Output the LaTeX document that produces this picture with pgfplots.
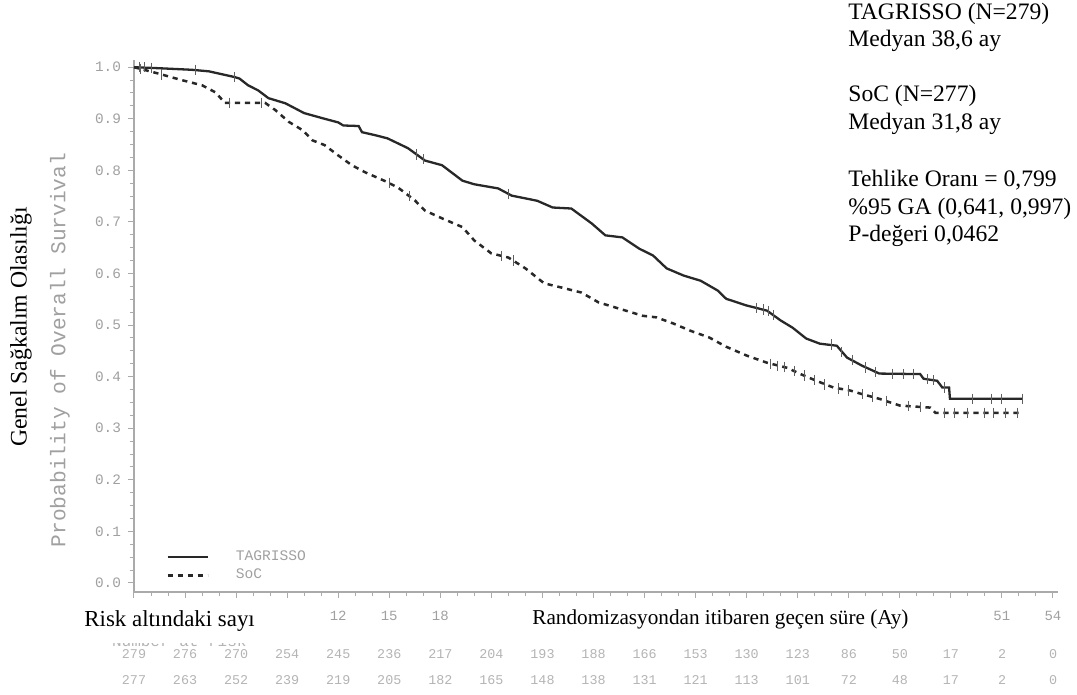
\documentclass[border=0pt]{standalone}
\usepackage{fontspec}
\setmainfont{Liberation Serif}
\setmonofont{Liberation Mono}
\usepackage{pgfplots}
\pgfplotsset{compat=1.18}
\definecolor{curve}{RGB}{40,40,40}
\definecolor{axisgray}{RGB}{170,170,170}
\definecolor{labgray}{RGB}{160,160,160}
\definecolor{riskgray}{RGB}{180,180,180}
\definecolor{censor}{RGB}{95,95,95}

\begin{document}
\begin{tikzpicture}
% whole picture = 1077 x 695 px at 0.5pt per px; axis origin at px (134,592)
\path[use as bounding box] (-67pt,-51.5pt) rectangle (471.5pt,296pt);

\begin{axis}[
    at={(0pt,0pt)}, anchor=south west,
    scale only axis, width=462pt, height=266pt,
    xmin=0, xmax=54.3, ymin=-0.0175, ymax=1.014,
    axis x line*=bottom, axis y line*=left,
    axis line style={axisgray, line width=0.6pt},
    xtick={0,3,...,54},
    xticklabels={,,,,12,15,18,,,,,,,,,,,51,54},
    minor x tick num=2,
    ytick={0,0.1,0.2,0.3,0.4,0.5,0.6,0.7,0.8,0.9,1.0},
    yticklabels={0.0,0.1,0.2,0.3,0.4,0.5,0.6,0.7,0.8,0.9,1.0},
    minor y tick num=3,
    tick align=outside,
    major tick length=3pt, minor tick length=1.8pt,
    tick style={axisgray, line width=0.5pt},
    yticklabel style={font=\ttfamily\fontsize{7.2}{8}\selectfont, text=labgray},
    xticklabel style={font=\ttfamily\fontsize{7}{8}\selectfont, text=labgray, yshift=-3pt},
    clip=false,
    legend style={at={(0.028,0.092)}, anchor=north west, draw=none, fill=none,
        font=\ttfamily\fontsize{7.3}{8}\selectfont, text=labgray,
        nodes={inner sep=1.5pt},
        /tikz/every odd column/.append style={column sep=12pt}},
    legend image code/.code={\draw[#1] (0pt,0pt) -- (20pt,0pt);},
    legend cell align=left,
]

% TAGRISSO
\addplot[curve, line width=1.15pt] coordinates {
(0,1.0) (1.5,0.998) (3.4,0.995) (4.4,0.992) (5.9,0.981) (6.2,0.978)
(6.7,0.965) (7.3,0.955) (7.9,0.940) (8.9,0.930) (10.0,0.911) (11.2,0.900)
(12.0,0.893) (12.3,0.887) (13.2,0.886) (13.4,0.874) (14.2,0.868) (14.9,0.862)
(16.1,0.843) (17.1,0.819) (18.1,0.810) (19.3,0.780) (20.0,0.773) (21.4,0.765)
(22.2,0.751) (23.7,0.741) (24.6,0.728) (25.7,0.726) (26.9,0.697) (27.7,0.674)
(28.7,0.670) (29.7,0.648) (30.5,0.635) (31.3,0.610) (32.3,0.596) (33.3,0.586)
(34.3,0.567) (34.8,0.551) (36.0,0.538) (37.2,0.528) (38.0,0.509) (38.7,0.495)
(39.5,0.474) (40.3,0.464) (41.3,0.460) (41.9,0.437) (42.8,0.421) (43.8,0.406)
(46.2,0.405) (46.4,0.396) (47.2,0.392) (47.5,0.379) (47.9,0.379) (47.95,0.357)
(52.2,0.357)
};
\addlegendentry{TAGRISSO}

% SoC
\addplot[curve, line width=1.25pt, dash pattern=on 2.6pt off 2.4pt] coordinates {
(0,1.0) (1.4,0.988) (2.8,0.975) (4.0,0.965) (4.8,0.951) (5.2,0.936)
(5.3,0.931) (7.7,0.931) (8.3,0.917) (9.1,0.894) (9.9,0.878) (10.5,0.858)
(11.2,0.849) (12.0,0.829) (12.8,0.810) (13.6,0.796) (14.7,0.780) (15.5,0.767)
(16.5,0.742) (17.1,0.722) (18.1,0.707) (19.3,0.690) (20.0,0.664) (21.0,0.639)
(22.0,0.631) (23.0,0.610) (24.1,0.581) (25.1,0.573) (26.3,0.563) (27.3,0.544)
(28.7,0.530) (29.9,0.518) (30.7,0.515) (31.7,0.503) (32.7,0.489) (33.8,0.476)
(34.8,0.458) (36.0,0.441) (37.2,0.427) (38.4,0.417) (39.1,0.406) (40.1,0.392)
(41.1,0.379) (42.1,0.373) (42.7,0.367) (43.8,0.357) (45.0,0.344) (46.8,0.340)
(47.1,0.330) (52.0,0.330)
};
\addlegendentry{SoC}

% censoring marks
\addplot[only marks, mark=|, mark size=2.6pt, mark options={censor, line width=0.45pt}, forget plot] coordinates {
(0.3,1.0) (0.6,1.0) (1.0,0.999) (3.6,0.995) (5.9,0.981) (16.6,0.831) (17.0,0.822)
(22.0,0.754) (36.6,0.533) (37.0,0.530) (37.3,0.527) (37.6,0.519) (41.0,0.462)
(41.6,0.448) (42.2,0.432) (43.0,0.418) (43.6,0.409) (44.6,0.405) (45.2,0.405)
(45.8,0.405) (46.6,0.395) (47.0,0.393) (47.6,0.379) (49.3,0.357) (50.4,0.357)
(51.0,0.357) (52.2,0.357)
};
\addplot[only marks, mark=|, mark size=2.6pt, mark options={censor, line width=0.45pt}, forget plot] coordinates {
(0.4,0.997) (1.6,0.986) (5.6,0.931) (7.5,0.931) (15.0,0.776) (16.2,0.750)
(21.6,0.634) (22.3,0.625) (37.4,0.425) (37.8,0.421) (38.2,0.419) (38.8,0.411)
(39.4,0.402) (40.0,0.394) (40.6,0.385) (41.4,0.377) (42.0,0.373) (42.8,0.366)
(43.4,0.360) (44.2,0.353) (45.5,0.343) (46.2,0.341) (47.6,0.330) (48.2,0.330)
(49.0,0.330) (50.0,0.330) (50.5,0.330) (51.2,0.330) (51.9,0.330)
};
\end{axis}

\begin{scope}[shift={(-67pt,296pt)}, x=0.5pt, y=-0.5pt]
% axis titles
\node[rotate=90, font=\ttfamily\fontsize{10.6}{12}\selectfont, text=labgray] at (60,350) {Probability of Overall Survival};
\node[rotate=90, font=\fontsize{11.85}{14}\selectfont] at (21,327) {Genel Sağkalım Olasılığı};

% number at risk
\foreach \v [count=\i from 0] in {279,276,270,254,245,236,217,204,193,188,166,153,130,123,86,50,17,2,0}
  \node[font=\ttfamily\fontsize{6.7}{8}\selectfont, text=riskgray] at ({134+51.06*\i},654) {\v};
\foreach \v [count=\i from 0] in {277,263,252,239,219,205,182,165,148,138,131,121,113,101,72,48,17,2,0}
  \node[font=\ttfamily\fontsize{6.7}{8}\selectfont, text=riskgray] at ({134+51.06*\i},680) {\v};

\node[anchor=base west, font=\ttfamily\fontsize{8}{9}\selectfont, text=riskgray] at (105,647) {Number at risk};
\fill[white] (70,600) rectangle (300,643);
\node[anchor=base west, font=\fontsize{11.45}{14}\selectfont, inner sep=0pt] at (84,627) {Risk altındaki sayı};
\node[anchor=base west, font=\fontsize{10.6}{13}\selectfont, inner sep=0pt] at (532,625) {Randomizasyondan itibaren geçen süre (Ay)};

% statistics block
\begin{scope}[every node/.style={anchor=base west, inner sep=0pt, font=\fontsize{11.8}{14}\selectfont}]
\node at (848,20) {TAGRISSO (N=279)};
\node at (848,47) {Medyan 38,6 ay};
\node at (848,102) {SoC (N=277)};
\node at (848,130) {Medyan 31,8 ay};
\node at (848,187) {Tehlike Oranı = 0,799};
\node at (848,215) {\%95 GA (0,641, 0,997)};
\node at (848,242) {P-değeri 0,0462};
\end{scope}
\end{scope}
\end{tikzpicture}
\end{document}
